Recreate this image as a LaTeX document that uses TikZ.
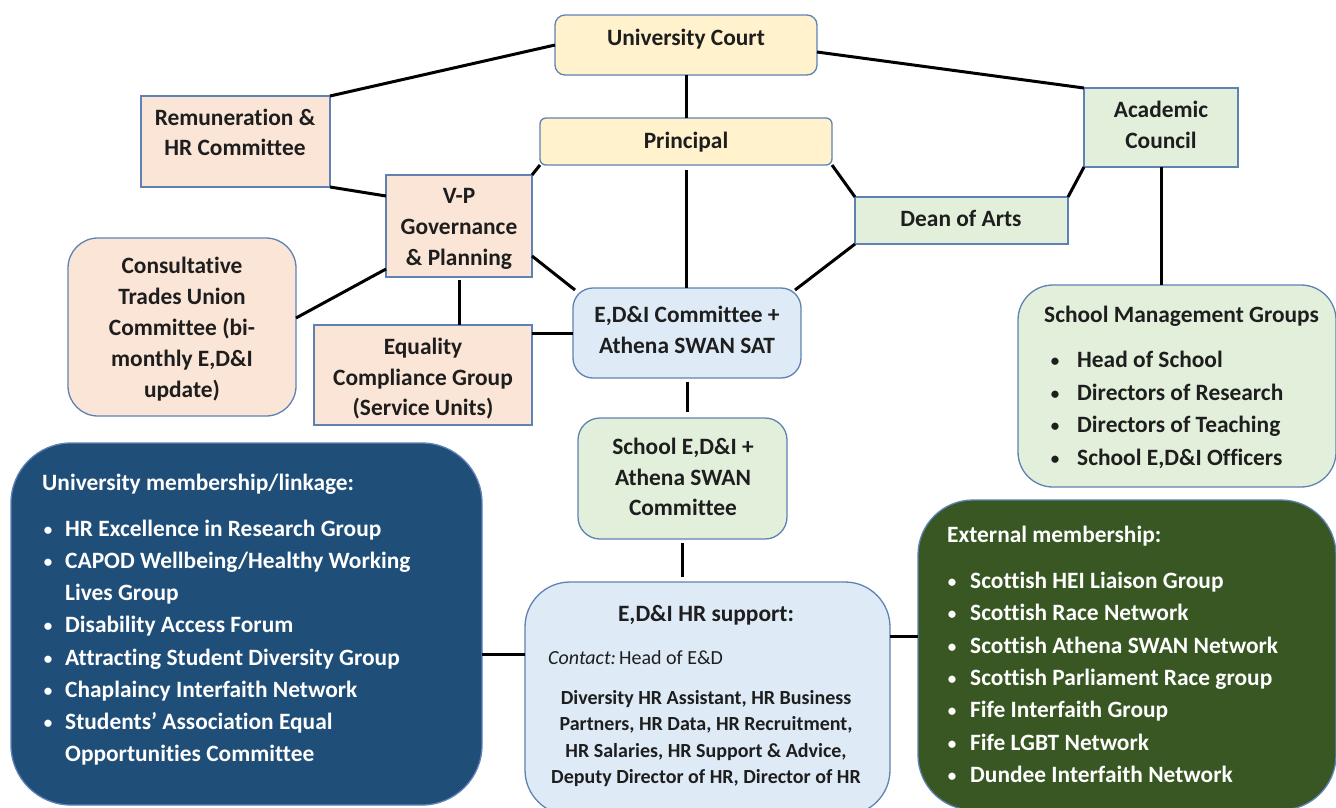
\documentclass[tikz,border=0pt]{standalone}
\usepackage{fontspec}
\setmainfont{Carlito}[Ligatures=NoCommon]
\usetikzlibrary{calc}
\definecolor{bordc}{RGB}{95,130,180}
\definecolor{yel}{RGB}{255,242,204}
\definecolor{peach}{RGB}{251,229,214}
\definecolor{lgreen}{RGB}{226,239,218}
\definecolor{lblue}{RGB}{222,235,247}
\definecolor{dblue}{RGB}{31,78,121}
\definecolor{dgreen}{RGB}{56,87,35}
\definecolor{ink}{RGB}{30,30,30}
\newcommand\myb[1]{\makebox[12pt][c]{\raisebox{1pt}{\fontsize{17}{17}\selectfont\textbullet}}\hspace{#1}}
\begin{document}
\begin{tikzpicture}[x=1pt,y=-1pt,
 box/.style={draw=bordc,line width=1.3pt,inner sep=0pt,outer sep=0pt},
 txt/.style={inner sep=0pt,text=ink,font=\bfseries\fontsize{23.4}{31}\selectfont,align=center},
 wtxt/.style={inner sep=0pt,text=white,font=\bfseries\fontsize{23.4}{32}\selectfont,align=left},
 stxt/.style={inner sep=0pt,text=ink,font=\bfseries\fontsize{20}{26.3}\selectfont,align=center},
 con/.style={line width=3pt,black},
]
\clip (0,0) rectangle (1336,807);
\fill[white] (0,0) rectangle (1336,807);

% boxes
\node[box,fill=yel,rounded corners=10pt,minimum width=262pt,minimum height=60pt] (uc) at (686,45) {};
\node[box,fill=yel,rounded corners=6pt,minimum width=292pt,minimum height=47pt] (pr) at (686,141.5) {};
\node[box,fill=peach,minimum width=189pt,minimum height=91pt] (rem) at (235.5,141.5) {};
\node[box,fill=peach,minimum width=146pt,minimum height=102pt] (vp) at (459,226) {};
\node[box,fill=lgreen,minimum width=154pt,minimum height=79pt] (ac) at (1161,127.5) {};
\node[box,fill=lgreen,minimum width=213pt,minimum height=47pt] (dean) at (961.5,220.5) {};
\node[box,fill=peach,rounded corners=30pt,minimum width=228pt,minimum height=178pt] (cons) at (182,327) {};
\node[box,fill=peach,minimum width=218pt,minimum height=100pt] (eq) at (423,375) {};
\node[box,fill=lblue,rounded corners=20pt,minimum width=228pt,minimum height=90pt] (edi) at (687,333) {};
\node[box,fill=lgreen,rounded corners=22pt,minimum width=209pt,minimum height=121pt] (sedi) at (682.5,478.5) {};
\node[box,fill=lgreen,rounded corners=35pt,minimum width=318pt,minimum height=202pt] (smg) at (1177,386) {};
\node[box,fill=dblue,rounded corners=60pt,minimum width=471pt,minimum height=362pt] (uni) at (246.5,624) {};
\node[box,fill=lblue,rounded corners=45pt,minimum width=365pt,minimum height=233pt] (hr) at (707.5,698.5) {};
\node[box,fill=dgreen,rounded corners=55pt,minimum width=418pt,minimum height=310pt] (ext) at (1127,655) {};

% connectors
\draw[con] (uc.west) -- (rem.north east);
\draw[con] (uc.south) -- (pr.north);
\draw[con] ([yshift=-7pt]uc.east) -- (ac.north west);
\draw[con] ([yshift=-5pt]pr.south) -- (pr.south |- edi.north);
\draw[con] (pr.south west) -- (vp.north east);
\draw[con] (pr.south east) -- (dean.north west);
\draw[con] (ac.south west) -- (dean.north east);
\draw[con] (dean.south west) -- ($(edi.north east)+(-6,2)$);
\draw[con] (rem.south east) -- ([yshift=30pt]vp.west);
\draw[con] ([yshift=-43pt]vp.west) -- ([yshift=9pt]cons.east);
\draw[con] ([yshift=-3pt]vp.south) -- (vp.south |- eq.north);
\draw[con] ([yshift=-30pt]vp.east) -- ($(edi.north west)+(2,2)$);
\draw[con] (edi.west -| eq.east) -- (edi.west);
\draw[con] ([yshift=-4pt]edi.south) -- ([yshift=6pt]edi.south |- sedi.north);
\draw[con] ([yshift=-4pt]sedi.south) -- ([yshift=5pt]sedi.south |- hr.north);
\draw[con] (ac.south) -- (ac.south |- smg.north);
\draw[con] ([yshift=-30pt]uni.east) -- ([yshift=-30pt]uni.east -| hr.west);
\draw[con] ([yshift=19pt]ext.west) -- ([yshift=19pt]ext.west -| hr.east);

% texts
\node[txt] (uct) at (686,39) {University Court};
\node[txt] (prt) at (686,142) {Principal};
\node[txt,font=\bfseries\fontsize{23.4}{30}\selectfont] (remt) at (235,132) {Remuneration \&\\HR Committee};
\node[txt] (vpt) at (459,229) {V-P\\Governance\\\& Planning};
\node[txt] (act) at (1161,124.5) {Academic\\Council};
\node[txt] (deant) at (961,218) {Dean of Arts};
\begin{scope}
\clip (cons.north west) rectangle ([yshift=15pt]cons.south east);
\node[txt] (const) at (182,329) {Consultative\\Trades Union\\Committee (bi-\\monthly E,D\&I\\update)};
\end{scope}
\node[txt,font=\bfseries\fontsize{23.4}{30.5}\selectfont] (eqt) at (423,379) {Equality\\Compliance Group\\(Service Units)};
\node[txt] (edit) at (687,329.5) {E,D\&I Committee +\\Athena SWAN SAT};
\node[txt,font=\bfseries\fontsize{23.4}{30.5}\selectfont] (sedit) at (683,477) {School E,D\&I +\\Athena SWAN\\Committee};
\node[txt,anchor=west] (smgt) at (1044,316) {School Management Groups};
\foreach \t [count=\i] in {Head of School,Directors of Research,Directors of Teaching,{School E,D\&I Officers}}
  \node[txt,anchor=base west] (smg\i) at (1049,{367.5+(\i-1)*32.7}) {\myb{16pt}\t};

\node[wtxt,anchor=west] (unit) at (42,484) {University membership/linkage:};
\foreach \t [count=\i] in {\myb{11pt}HR Excellence in Research Group,\myb{11pt}CAPOD Wellbeing/Healthy Working,\hspace{23pt}Lives Group,\myb{11pt}Disability Access Forum,\myb{11pt}Attracting Student Diversity Group,\myb{11pt}Chaplaincy Interfaith Network,\myb{11pt}Students’ Association Equal,\hspace{23pt}Opportunities Committee}
  \node[wtxt,anchor=base west] (uni\i) at (42,{536.5+(\i-1)*32.14}) {\t};

\node[txt] (hrt) at (706,615) {E,D\&I HR support:};
\node[stxt,anchor=west,font=\fontsize{20}{26}\selectfont] (hrc) at (548,658) {\textit{Contact:}\hspace{3pt}Head of E\&D};
\node[stxt] (hrb) at (706,738.5) {Diversity HR Assistant, HR Business\\Partners, HR Data, HR Recruitment,\\HR Salaries, HR Support \& Advice,\\Deputy Director of HR, Director of HR};

\node[wtxt,anchor=west] (extt) at (947,536) {External membership:};
\foreach \t [count=\i] in {Scottish HEI Liaison Group,Scottish Race Network,Scottish Athena SWAN Network,Scottish Parliament Race group,Fife Interfaith Group,Fife LGBT Network,Dundee Interfaith Network}
  \node[wtxt,anchor=base west] (ext\i) at (946,{588.5+(\i-1)*32.33}) {\myb{12pt}\t};
\end{tikzpicture}
\end{document}
